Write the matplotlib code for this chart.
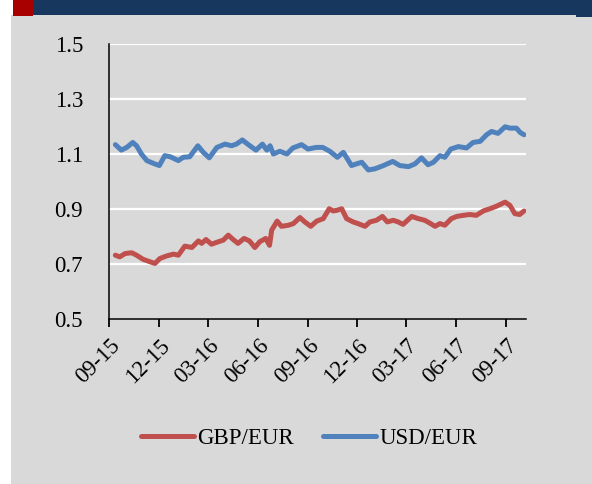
import matplotlib
matplotlib.use('Agg')
import matplotlib.pyplot as plt
import matplotlib.dates as mdates
from matplotlib.patches import Rectangle
import pandas as pd

# days after 2015-09-01 and rate values
start = pd.Timestamp('2015-09-01')
end_day = 767

gbp_days = [11, 19, 29, 41, 50, 62, 75, 84, 93, 105, 118, 127, 139, 152, 164,
            170, 178, 188, 201, 210, 219, 228, 237, 248, 258, 268, 277, 288, 295, 299,
            309, 317, 330, 339, 351, 360, 371, 382, 394, 405, 412, 419, 428, 437, 449,
            458, 471, 480, 492, 503, 512, 523, 532, 541, 557, 569, 581, 590, 600, 609,
            618, 630, 640, 652, 664, 676, 689, 701, 713, 729, 738, 747, 756, 764]
gbp_eur = [0.732, 0.726, 0.738, 0.741, 0.732, 0.717, 0.708, 0.702, 0.720, 0.729,
           0.736, 0.732, 0.765, 0.760, 0.784, 0.775, 0.789, 0.772, 0.781, 0.787,
           0.805, 0.789, 0.775, 0.793, 0.784, 0.760, 0.781, 0.793, 0.768, 0.823,
           0.856, 0.837, 0.841, 0.847, 0.869, 0.853, 0.837, 0.856, 0.865, 0.901,
           0.893, 0.895, 0.901, 0.865, 0.853, 0.847, 0.837, 0.853, 0.859, 0.873,
           0.853, 0.859, 0.853, 0.844, 0.873, 0.865, 0.859, 0.849, 0.837, 0.847,
           0.841, 0.865, 0.873, 0.877, 0.880, 0.877, 0.893, 0.901, 0.910, 0.925,
           0.913, 0.883, 0.880, 0.893]

usd_days = [11, 22, 32, 43, 50, 59, 69, 81, 92, 102, 112, 127, 136, 148, 163,
            173, 184, 198, 213, 225, 234, 245, 256, 270, 282, 290, 296, 302, 314, 327,
            338, 354, 366, 381, 393, 406, 420, 431, 446, 455, 465, 477, 489, 505, 522,
            535, 551, 563, 575, 587, 597, 609, 618, 629, 643, 658, 670, 683, 695, 704,
            716, 729, 738, 750, 757, 764]
usd_eur = [1.134, 1.114, 1.124, 1.142, 1.130, 1.100, 1.076, 1.066, 1.058, 1.094,
           1.090, 1.076, 1.088, 1.090, 1.130, 1.106, 1.086, 1.124, 1.136, 1.130,
           1.136, 1.151, 1.134, 1.114, 1.136, 1.114, 1.130, 1.100, 1.110, 1.100,
           1.122, 1.134, 1.118, 1.124, 1.124, 1.110, 1.088, 1.106, 1.058, 1.064,
           1.070, 1.042, 1.046, 1.058, 1.073, 1.058, 1.054, 1.064, 1.086, 1.061,
           1.070, 1.094, 1.088, 1.118, 1.127, 1.122, 1.142, 1.146, 1.170, 1.182,
           1.175, 1.199, 1.194, 1.194, 1.178, 1.170]

y_ticks = [0.5, 0.7, 0.9, 1.1, 1.3, 1.5]

plt.rcParams['font.family'] = ['Liberation Serif', 'DejaVu Serif']

fig = plt.figure(figsize=(5.92, 4.84), dpi=100)
fig.patch.set_facecolor('white')

# page decoration: gray panel, dark header bar, red square
W, H = 592, 484
def px_rect(x0, y0, x1, y1, color):
    fig.patches.append(Rectangle((x0 / W, 1 - y1 / H), (x1 - x0) / W, (y1 - y0) / H,
                                 transform=fig.transFigure, color=color, zorder=-5, lw=0))
px_rect(11, 15, 592, 484, '#D9D9D9')
px_rect(33, 0, 592, 15, '#17375E')
px_rect(576, 0, 592, 17, '#17375E')
px_rect(12.5, 0, 33, 16, '#A80000')

ax = fig.add_axes([109.4 / W, 1 - 319 / H, (525.7 - 109.4) / W, (319 - 44) / H])
ax.set_facecolor('none')

gbp_dates = start + pd.to_timedelta(gbp_days, unit='D')
usd_dates = start + pd.to_timedelta(usd_days, unit='D')
ax.plot(gbp_dates, gbp_eur, color='#C0504D', lw=3.6, solid_capstyle='round',
        solid_joinstyle='round', label='GBP/EUR', zorder=3)
ax.plot(usd_dates, usd_eur, color='#4F81BD', lw=3.6, solid_capstyle='round',
        solid_joinstyle='round', label='USD/EUR', zorder=3)

ax.set_xlim(start, start + pd.Timedelta(days=end_day))
ax.set_ylim(0.5, 1.5)
ax.set_yticks(y_ticks)
ax.set_yticklabels([f'{v:.1f}' for v in y_ticks])
for v in y_ticks[1:]:
    ax.axhline(v, color='white', lw=1.6, zorder=1)

ax.xaxis.set_major_locator(mdates.MonthLocator(bymonth=[3, 6, 9, 12]))
ax.xaxis.set_major_formatter(mdates.DateFormatter('%m-%y'))
plt.setp(ax.get_xticklabels(), rotation=45, ha='right', rotation_mode='anchor')

for s in ['top', 'right']:
    ax.spines[s].set_visible(False)
for s in ['left', 'bottom']:
    ax.spines[s].set_color('black')
    ax.spines[s].set_linewidth(1.1)
    ax.spines[s].set_zorder(4)

ax.tick_params(axis='y', length=0, pad=19, labelsize=16.5)
ax.tick_params(axis='x', length=5.5, width=1.3, direction='out', pad=6, labelsize=16.5)

fig.legend(loc='center', bbox_to_anchor=(0.522, 0.095), ncol=2, frameon=False,
           fontsize=16.5, handlelength=2.3, handletextpad=0.15, columnspacing=1.3)

fig.savefig('out.png', dpi=100)
